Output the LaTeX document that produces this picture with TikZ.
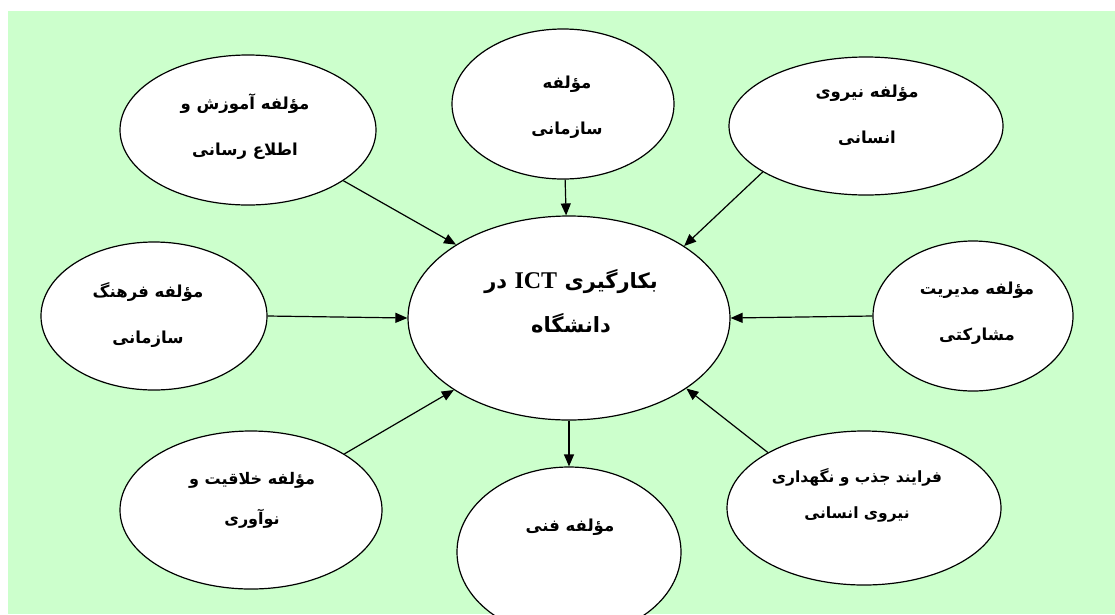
\documentclass[tikz,border=0pt]{standalone}
\usepackage{fontspec}
\usetikzlibrary{arrows.meta,shapes.geometric}
\TeXXeTstate=1
\newfontfamily\fa[Script=Arabic]{DejaVu Sans}
\newfontfamily\lat{Liberation Serif}
\definecolor{bg}{RGB}{204,255,204}
\tikzset{
  ell/.style={ellipse, draw=black, line width=1.2pt, fill=white, inner sep=0pt},
  txt/.style={align=center, inner sep=0pt, font=\fa\bfseries\fontsize{16.5pt}{46pt}\selectfont},
  bigtxt/.style={align=center, inner sep=0pt, font=\fa\bfseries\fontsize{21pt}{44pt}\selectfont},
  smalltxt/.style={align=center, inner sep=0pt, font=\fa\bfseries\fontsize{15.5pt}{36pt}\selectfont},
  conn/.style={line width=1.2pt, -{Triangle[length=12pt,width=10pt]}}
}
\begin{document}
\begin{tikzpicture}[x=1pt,y=-1pt]
\useasboundingbox (0,0) rectangle (1115,614);
\clip (0,0) rectangle (1115,614);
\fill[white] (0,0) rectangle (1115,614);
\fill[bg] (8,11) rectangle (1115,614);

\node[ell, minimum width=256pt, minimum height=150pt] (tl) at (248,130) {};
\node[ell, minimum width=222pt, minimum height=150pt] (tm) at (563,104) {};
\node[ell, minimum width=274pt, minimum height=138pt] (tr) at (866,126) {};
\node[ell, minimum width=226pt, minimum height=148pt] (lf) at (154,316) {};
\node[ell, minimum width=322pt, minimum height=204pt] (c) at (569,318) {};
\node[ell, minimum width=200pt, minimum height=150pt] (rt) at (973,316) {};
\node[ell, minimum width=262pt, minimum height=158pt] (bl) at (251,510) {};
\node[ell, minimum width=224pt, minimum height=170pt] (bm) at (569,552) {};
\node[ell, minimum width=274pt, minimum height=154pt] (br) at (864,508) {};

\node[txt] (tl-t) at (245,127) {\beginR مؤلفه آموزش و\endR\\\beginR اطلاع رسانی\endR};
\node[txt] (tm-t) at (567,107) {\beginR مؤلفه\endR\\\beginR سازمانی\endR};
\node[txt] (tr-t) at (867,115) {\beginR مؤلفه نیروی\endR\\\beginR انسانی\endR};
\node[txt] (lf-t) at (148,315) {\beginR مؤلفه فرهنگ\endR\\\beginR سازمانی\endR};
\node[bigtxt] (c-t) at (571,301) {\beginR بکارگیری \beginL{\lat\bfseries\fontsize{24pt}{44pt}\selectfont ICT}\endL{} در\endR\\\beginR دانشگاه\endR};
\node[txt] (rt-t) at (977,313) {\beginR مؤلفه مدیریت\endR\\\beginR مشارکتی\endR};
\node[txt, font=\fa\bfseries\fontsize{16pt}{40pt}\selectfont] (bl-t) at (252,500) {\beginR مؤلفه خلاقیت و\endR\\\beginR نوآوری\endR};
\node[txt] (bm-t) at (570,527) {\beginR مؤلفه فنی\endR};
\node[smalltxt] (br-t) at (857,495) {\beginR فرایند جذب و نگهداری\endR\\\beginR نیروی انسانی\endR};

\draw[conn] (tl.-28) -- (c.147.7);
\draw[conn] (tm) -- (c);
\draw[conn] (tr.204.5) -- (c.32);
\draw[conn] (lf.east) -- (c.west);
\draw[conn] (rt.west) -- (c.east);
\draw[conn] (c.south) -- (bm.north);
\draw[conn] (bl.31.7) -- (c.212.3);
\draw[conn] (br.150.5) -- (c.-31.6);
\end{tikzpicture}
\end{document}
